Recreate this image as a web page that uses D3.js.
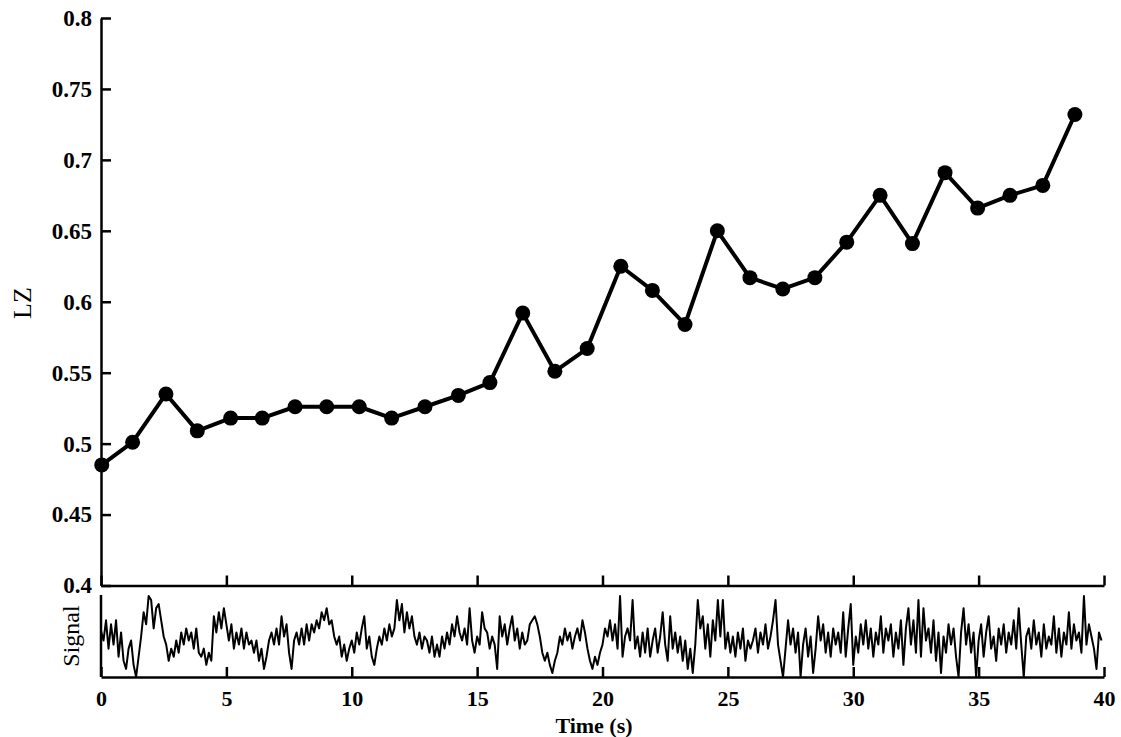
<!DOCTYPE html>
<html>
<head>
<meta charset="utf-8">
<script src="https://cdn.jsdelivr.net/npm/d3@7"></script>
<style>
  body { margin: 0; background: #fff; }
  svg { display: block; }
  text { font-family: "Liberation Serif", "Times New Roman", serif; fill: #000; }
</style>
</head>
<body>
<svg id="chart"></svg>
<script>
// LZ complexity values (one per window)
var lzTimes = [0.03, 1.26, 2.59, 3.84, 5.17, 6.43, 7.74, 9.0, 10.3, 11.59, 12.92, 14.25, 15.51,
  16.82, 18.1, 19.39, 20.73, 21.99, 23.29, 24.58, 25.88, 27.19, 28.47, 29.74, 31.07, 32.36,
  33.66, 34.96, 36.25, 37.56, 38.84];
var lzValues = [0.485, 0.501, 0.535, 0.509, 0.518, 0.518, 0.526, 0.526, 0.526, 0.518, 0.526, 0.534,
  0.543, 0.592, 0.551, 0.567, 0.625, 0.608, 0.584, 0.650, 0.617, 0.609, 0.617, 0.642, 0.675,
  0.641, 0.691, 0.666, 0.675, 0.682, 0.732];

var yTicks = [0.4, 0.45, 0.5, 0.55, 0.6, 0.65, 0.7, 0.75, 0.8];
var xTicks = [0, 5, 10, 15, 20, 25, 30, 35, 40];

// raw signal (arbitrary units, 0 = bottom of strip, 10 = top), sampled every 0.1 s
var sampleStep = 0.1;
var signal = [
  5.7, 4.5, 7.0, 3.5, 6.5, 4.0, 7.0, 2.5, 5.5, 2.0,
  1.0, 3.5, 4.5, 1.5, 0.0, 2.5, 5.0, 8.0, 6.5, 10.0,
  9.5, 6.0, 8.5, 9.0, 7.0, 5.0, 4.0, 2.0, 3.5, 2.5,
  4.5, 3.0, 5.5, 4.0, 6.0, 4.5, 5.5, 3.5, 6.0, 3.0,
  2.5, 3.5, 1.5, 3.0, 2.0, 7.5, 5.5, 8.0, 6.0, 8.5,
  6.5, 4.5, 6.5, 3.5, 5.5, 4.0, 6.0, 3.5, 5.5, 4.0,
  4.5, 3.0, 4.5, 2.0, 3.5, 1.0, 2.5, 4.5, 5.5, 4.0,
  6.0, 4.0, 7.5, 5.0, 6.5, 3.0, 1.0, 4.5, 5.5, 4.0,
  6.0, 4.0, 6.5, 4.5, 6.5, 5.5, 7.0, 6.0, 8.0, 7.0,
  8.5, 6.5, 7.0, 5.0, 4.0, 5.0, 2.5, 4.0, 2.0, 3.5,
  4.5, 3.0, 5.5, 4.0, 6.0, 7.5, 3.5, 5.0, 2.5, 1.5,
  3.5, 5.0, 4.0, 6.0, 4.5, 6.5, 5.0, 6.0, 9.5, 7.0,
  9.0, 5.5, 8.0, 6.0, 7.5, 5.0, 4.0, 5.5, 3.5, 5.0,
  4.5, 3.0, 5.0, 2.5, 4.0, 2.5, 5.0, 3.5, 5.5, 4.0,
  6.5, 5.0, 7.5, 5.5, 4.5, 6.0, 4.0, 8.5, 4.5, 3.0,
  5.0, 4.0, 8.0, 6.0, 5.5, 3.5, 5.0, 4.0, 1.0, 7.5,
  5.0, 6.5, 4.0, 6.0, 7.5, 4.5, 6.0, 3.5, 5.5, 4.0,
  4.5, 6.5, 7.0, 7.5, 6.5, 5.0, 3.0, 2.0, 3.0, 1.5,
  0.5, 2.0, 3.0, 5.0, 4.0, 6.0, 4.5, 5.5, 3.5, 5.0,
  6.0, 4.5, 7.0, 5.5, 3.5, 2.0, 1.0, 2.5, 1.5, 3.0,
  4.0, 6.0, 5.0, 7.0, 4.5, 6.5, 3.5, 10.0, 2.5, 5.0,
  6.0, 4.5, 9.5, 3.5, 5.0, 2.5, 5.5, 3.0, 6.0, 2.5,
  4.5, 6.0, 3.0, 5.0, 8.0, 4.0, 2.0, 7.5, 3.5, 5.5,
  3.0, 5.0, 2.0, 4.5, 1.0, 3.5, 0.5, 4.0, 9.5, 6.0,
  7.5, 3.5, 6.5, 2.5, 7.0, 4.5, 9.5, 5.0, 9.5, 3.5,
  5.5, 3.0, 5.0, 2.5, 5.5, 3.5, 6.0, 2.0, 4.5, 3.5,
  4.5, 6.0, 3.0, 5.5, 4.0, 6.5, 3.5, 5.0, 7.0, 9.5,
  4.0, 2.0, 0.0, 3.5, 7.0, 4.0, 6.0, 3.0, 5.5, 0.0,
  4.0, 6.0, 2.5, 5.0, 0.5, 3.5, 7.5, 4.5, 6.5, 3.0,
  5.5, 2.5, 6.0, 4.0, 5.5, 3.0, 8.0, 2.5, 6.0, 9.0,
  1.5, 5.0, 3.0, 6.5, 4.0, 7.0, 3.5, 6.0, 2.5, 5.5,
  4.0, 7.5, 3.0, 6.0, 4.5, 6.5, 2.5, 5.5, 3.5, 7.0,
  1.5, 6.0, 8.5, 4.0, 7.0, 3.0, 9.5, 2.5, 8.5, 4.5,
  6.0, 3.0, 7.0, 2.0, 5.5, 0.5, 5.0, 3.0, 6.5, 4.0,
  6.0, 2.5, 0.0, 5.5, 8.5, 4.0, 6.5, 3.0, 5.5, 0.0,
  4.5, 6.5, 2.5, 5.5, 7.5, 3.5, 5.0, 2.0, 6.0, 4.0,
  6.5, 3.0, 5.5, 4.0, 7.0, 3.5, 8.5, 4.0, 0.0, 5.0,
  6.0, 3.5, 7.0, 4.0, 5.5, 2.5, 6.5, 3.5, 5.0, 4.0,
  7.5, 3.0, 6.0, 2.5, 5.5, 4.0, 8.0, 3.5, 6.5, 4.5,
  5.5, 3.0, 10.0, 4.0, 6.5, 5.0, 3.5, 1.0, 5.5, 4.5
];

function drawChart() {
    var width = 1121;
    var height = 737;
    var svg = d3.select('#chart').attr("width", width).attr("height", height);

    var xScale = d3.scaleLinear().domain([0, 40]).range([101, 1104]);
    var yScale = d3.scaleLinear().domain([0.4, 0.8]).range([585.5, 18]);
    var sigY = d3.scaleLinear().domain([0, 10]).range([677, 596]);

    // main panel axes
    var yAxis = d3.axisLeft(yScale).tickValues(yTicks).tickSizeInner(-10).tickSizeOuter(0)
        .tickPadding(9).tickFormat(function(d) { return +d.toFixed(2); });
    var gy = svg.append("g").attr("transform", "translate(101,0)").call(yAxis);

    var xAxisTop = d3.axisBottom(xScale).tickValues(xTicks).tickSizeInner(-10).tickSizeOuter(0)
        .tickFormat("");
    var gx1 = svg.append("g").attr("transform", "translate(0,585.5)").call(xAxisTop);

    // signal panel axes
    var xAxis = d3.axisBottom(xScale).tickValues(xTicks).tickSizeInner(-10).tickSizeOuter(0)
        .tickPadding(13);
    var gx2 = svg.append("g").attr("transform", "translate(0,677)").call(xAxis);

    svg.append("line").attr("x1", 101).attr("x2", 101).attr("y1", 595).attr("y2", 677)
        .attr("stroke", "#000").attr("stroke-width", 2.5);

    [gy, gx1, gx2].forEach(function(g) {
        g.selectAll("path.domain").attr("stroke", "#000").attr("stroke-width", 2.5);
        g.selectAll(".tick line").attr("stroke", "#000").attr("stroke-width", 2.5);
        g.selectAll(".tick text").style("font-family", "'Liberation Serif', serif")
            .style("font-size", "23px").style("font-weight", "bold").attr("fill", "#000");
    });
    gx2.selectAll(".tick text").style("font-size", "22px");

    // signal trace
    var sigLine = d3.line()
        .x(function(d, i) { return xScale(i * sampleStep); })
        .y(function(d) { return sigY(d); });
    svg.append("path").datum(signal).attr("d", sigLine)
        .attr("fill", "none").attr("stroke", "#000").attr("stroke-width", 2)
        .attr("stroke-linejoin", "round");

    // LZ line + dots
    var lzData = lzTimes.map(function(t, i) { return { t: t, v: lzValues[i] }; });
    var lzLine = d3.line()
        .x(function(d) { return xScale(d.t); })
        .y(function(d) { return yScale(d.v); });
    svg.append("path").datum(lzData).attr("d", lzLine)
        .attr("fill", "none").attr("stroke", "#000").attr("stroke-width", 4)
        .attr("stroke-linejoin", "round");
    svg.selectAll("circle.pt").data(lzData).enter().append("circle")
        .attr("class", "pt")
        .attr("cx", function(d) { return xScale(d.t); })
        .attr("cy", function(d) { return yScale(d.v); })
        .attr("r", 7.5).attr("fill", "#000");

    // axis titles
    svg.append("text").attr("transform", "translate(31,303) rotate(-90)")
        .attr("text-anchor", "middle").style("font-size", "26px").text("LZ");
    svg.append("text").attr("transform", "translate(79,636) rotate(-90)")
        .attr("text-anchor", "middle").style("font-size", "24px").text("Signal");
    svg.append("text").attr("x", 594).attr("y", 733)
        .attr("text-anchor", "middle").style("font-size", "22px").style("font-weight", "bold").text("Time (s)");
}

drawChart();
</script>
</body>
</html>
